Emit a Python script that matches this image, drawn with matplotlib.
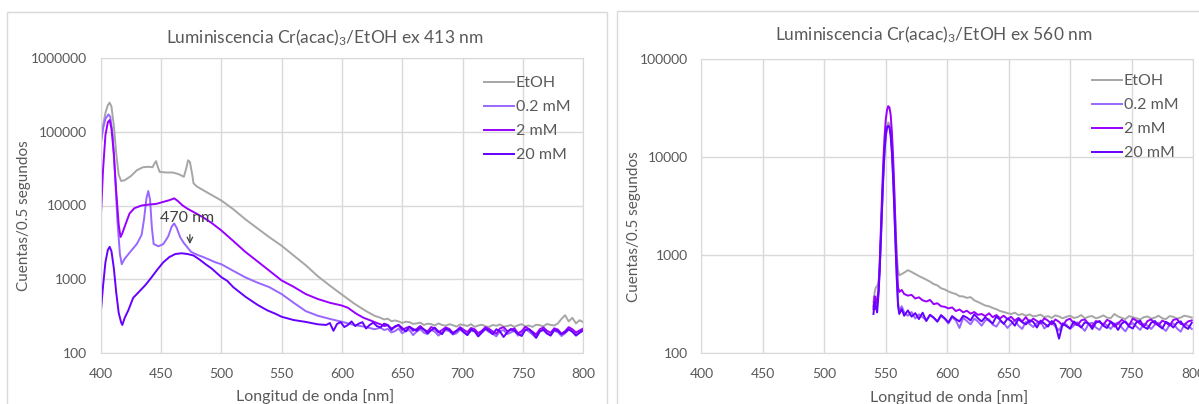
import numpy as np
import matplotlib
matplotlib.use("Agg")
import matplotlib.pyplot as plt
from matplotlib.patches import Rectangle

plt.rcParams['font.family'] = ['Lato', 'DejaVu Sans']
plt.rcParams['mathtext.default'] = 'regular'

# ---------------------------------------------------------------- data, ex 413 nm
labels = ['EtOH', '0.2 mM', '2 mM', '20 mM']
colors_ = ['#A6A6A6', '#9966FF', '#9900FF', '#6600FF']

wl_a_etoh = [400, 402, 404, 406, 407.5, 409, 411, 413, 415, 417, 420, 425, 430, 435, 440, 443,
             445, 446, 447.5, 449, 455, 460, 465, 469, 471, 472.5, 474, 476, 477, 480, 490, 500,
             510, 520, 530, 540, 550, 560, 570, 580, 590, 600, 610, 620, 627]
ct_a_etoh = [70000, 120000, 180000, 230000, 248000, 220000, 120000, 50000, 26000, 21500, 22000,
             25000, 30000, 33000, 33500, 33000, 38000, 40000, 33000, 28500, 28000, 28000, 26500,
             24500, 32000, 41000, 39000, 26000, 20000, 18000, 14500, 11700, 8900, 6500, 4900, 3700,
             2850, 2100, 1550, 1100, 820, 620, 470, 370, 320]
tail_a_etoh = [300, 285, 292, 270, 276, 268, 255, 266, 262, 248, 252, 258, 240, 250, 246, 236, 252,
               240, 234, 246, 238, 228, 244, 240, 232, 246, 226, 236, 242, 230, 226, 240, 234, 244,
               228, 232, 240, 226, 238, 246, 230, 236, 226, 242, 238, 230, 248, 240, 236, 252, 290,
               325, 268, 300, 252, 278, 262]

wl_a_02 = [400, 402, 404, 406.5, 408, 410, 412, 414, 416, 417.5, 420, 425, 430, 434, 436, 438,
           439.5, 441, 442.5, 444, 448, 452, 456, 459, 461, 463, 466, 469, 472, 475, 480, 485, 490,
           495, 500, 510, 520, 530, 540, 550, 560, 570, 580, 590, 600, 610, 620, 627]
ct_a_02 = [65000, 110000, 150000, 172000, 160000, 90000, 25000, 6000, 2200, 1600, 1900, 2400, 3000,
           4000, 6500, 12500, 15700, 12000, 5000, 3000, 2800, 3000, 3800, 5200, 5700, 5000, 3700,
           3100, 2700, 2350, 2150, 2000, 1850, 1700, 1600, 1300, 1060, 900, 780, 630, 480, 370, 320,
           290, 265, 240, 225, 210]
tail_a_02 = [220, 205, 212, 190, 198, 215, 185, 200, 205, 175, 195, 210, 188, 180, 206, 195, 172,
             190, 205, 198, 178, 185, 208, 190, 176, 200, 196, 170, 188, 210, 192, 182, 168, 198,
             205, 180, 190, 200, 172, 185, 210, 195, 178, 160, 196, 205, 182, 176, 200, 192, 170,
             185, 208, 196, 178, 190, 205]

wl_a_2 = [400, 402, 404, 406, 407.5, 409, 411, 413, 415, 416.5, 418, 420, 424, 428, 434, 440, 446,
          452, 457, 461, 464, 468, 472, 478, 485, 492, 500, 510, 520, 530, 540, 550, 560, 570, 580,
          590, 600, 605, 612, 618, 624, 629]
ct_a_2 = [5900, 30000, 90000, 135000, 144000, 110000, 50000, 15000, 5500, 3740, 4200, 5200, 7800,
          9200, 10000, 10300, 10500, 11200, 11800, 12500, 11500, 10000, 9050, 8000, 6900, 5800,
          4600, 3300, 2350, 1750, 1300, 965, 790, 630, 540, 480, 440, 410, 340, 300, 275, 255]
tail_a_2 = [245, 232, 238, 215, 225, 240, 205, 218, 228, 200, 212, 232, 208, 196, 225, 214, 190,
            205, 222, 212, 188, 200, 224, 206, 192, 218, 210, 186, 200, 224, 212, 196, 182, 215,
            224, 198, 205, 216, 185, 198, 226, 212, 194, 178, 210, 222, 200, 188, 216, 208, 182,
            198, 224, 210, 190, 202, 215]

wl_a_20 = [400, 402, 404, 406, 407.5, 409, 411, 413, 415, 417, 418, 420, 423, 427, 432, 437, 442,
           447, 452, 457, 462, 467, 472, 477, 482, 487, 492, 500, 505, 510, 520, 530, 538, 545, 550,
           560, 570, 580, 587]
ct_a_20 = [330, 800, 1700, 2500, 2750, 2400, 1400, 650, 350, 260, 240, 300, 380, 560, 680, 830,
           1050, 1350, 1700, 2000, 2200, 2250, 2200, 2100, 1850, 1600, 1400, 1070, 950, 780, 580,
           450, 380, 340, 310, 280, 264, 245, 240]
tail_a_20 = [255, 200, 248, 262, 225, 240, 268, 232, 250, 262, 215, 240, 258, 232, 222, 250, 240,
             205, 230, 240, 218, 196, 226, 212, 200, 222, 208, 185, 204, 220, 196, 180, 214, 205,
             182, 200, 215, 192, 175, 208, 198, 168, 192, 214, 200, 180, 210, 196, 165, 190, 212,
             200, 182, 170, 205, 210, 188, 162, 196, 208, 185, 172, 206, 198, 180, 190, 210, 194,
             172, 188, 202]

# ---------------------------------------------------------------- data, ex 560 nm
wl_b_peak = [540, 541, 542, 543, 544, 545, 546, 547, 548, 549, 550, 551, 552, 553, 554, 555, 556,
             557, 558, 559, 560, 561, 563]
ct_b_etoh = [330, 420, 470, 480, 520, 700, 1300, 2800, 6000, 11000, 16500, 20500, 22500, 22000,
             19000, 13500, 8000, 4000, 1900, 1000, 700, 620, 640]
tail_b_etoh = [660, 700, 672, 640, 610, 585, 560, 535, 505, 490, 458, 445, 425, 410, 400, 380, 378,
               365, 372, 345, 332, 318, 305, 300, 288, 280, 268, 262, 255, 250, 258, 244, 250, 240,
               248, 236, 240, 246, 232, 238, 228, 242, 236, 226, 234, 240, 228, 232, 244, 226, 235,
               238, 226, 232, 242, 230, 226, 250, 236, 228, 222, 238, 232, 226, 220, 232, 236, 224,
               230, 240, 226, 222, 238, 234, 224, 230, 240, 236, 230]
ct_b_02 = [300, 360, 280, 340, 400, 700, 1500, 3200, 6500, 11500, 16500, 20000, 21000, 20500,
           17000, 11500, 6500, 3000, 1300, 600, 330, 270, 300]
tail_b_02 = [260, 240, 262, 225, 248, 232, 215, 245, 228, 208, 238, 222, 200, 232, 215, 180, 228,
             212, 196, 224, 210, 190, 215, 222, 195, 186, 212, 202, 180, 198, 215, 190, 176, 208,
             198, 184, 202, 210, 178, 192, 205, 186, 170, 200, 195, 176, 190, 206, 185, 168, 198,
             204, 182, 172, 200, 192, 176, 196, 205, 182, 166, 192, 202, 186, 172, 198, 190, 176,
             195, 204, 180, 168, 194, 200, 178, 165, 196, 190, 176]
ct_b_2 = [280, 380, 320, 360, 420, 800, 1800, 4200, 9000, 16000, 24000, 30000, 33000, 32000,
          27000, 18000, 10000, 4500, 1800, 800, 470, 420, 440]
tail_b_2 = [400, 385, 392, 360, 370, 345, 335, 348, 315, 322, 300, 296, 285, 292, 268, 278, 260,
            270, 252, 262, 245, 250, 238, 254, 232, 244, 226, 240, 222, 234, 214, 228, 210, 232,
            206, 224, 212, 200, 226, 214, 196, 220, 208, 190, 216, 224, 200, 192, 215, 220, 198,
            188, 212, 206, 194, 218, 210, 186, 200, 218, 206, 192, 225, 214, 198, 186, 212, 220,
            200, 192, 214, 205, 190, 218, 222, 198, 194, 210, 215]
ct_b_20 = [250, 330, 290, 260, 380, 650, 1400, 3100, 6400, 11500, 16500, 20000, 20800, 20000,
           16500, 11000, 6000, 2800, 1200, 560, 300, 250, 280]
tail_b_20 = [240, 272, 235, 255, 222, 258, 212, 245, 230, 210, 244, 226, 205, 238, 222, 210, 240,
             230, 215, 248, 226, 210, 232, 214, 200, 236, 218, 198, 224, 212, 190, 222, 206, 196,
             216, 208, 182, 214, 200, 186, 212, 196, 140, 200, 188, 178, 210, 196, 182, 206, 200,
             176, 204, 212, 190, 180, 208, 198, 172, 200, 210, 186, 178, 206, 214, 185, 176, 204,
             212, 190, 178, 208, 198, 182, 204, 210, 186, 176, 204]

yticks_a = [100, 1000, 10000, 100000, 1000000]
yticks_b = [100, 1000, 10000, 100000]
xticks = [400, 450, 500, 550, 600, 650, 700, 750, 800]


def join(wl, ct, tail, start):
    x = np.concatenate([wl, start + 3 * np.arange(len(tail))])
    return x, np.concatenate([ct, tail])


series_a = [join(wl_a_etoh, ct_a_etoh, tail_a_etoh, 632),
            join(wl_a_02, ct_a_02, tail_a_02, 632),
            join(wl_a_2, ct_a_2, tail_a_2, 632),
            join(wl_a_20, ct_a_20, tail_a_20, 590)]
series_b = [join(wl_b_peak, ct_b_etoh, tail_b_etoh, 565),
            join(wl_b_peak, ct_b_02, tail_b_02, 565),
            join(wl_b_peak, ct_b_2, tail_b_2, 565),
            join(wl_b_peak, ct_b_20, tail_b_20, 565)]

W, H = 1199, 404
txt = '#595959'
grid = '#D9D9D9'
fig = plt.figure(figsize=(W / 100, H / 100), dpi=100)

# chart area borders
fig.add_artist(Rectangle((7 / W, -0.05), 600 / W, 1.05 - 11.7 / H, transform=fig.transFigure,
                         fill=False, edgecolor=grid, lw=1))
fig.add_artist(Rectangle((617 / W, -0.05), 700 / W, 1.05 - 10.7 / H, transform=fig.transFigure,
                         fill=False, edgecolor=grid, lw=1))


def setup(rect, series, yticks, title, tx, ty, leg_xy, xl, yl):
    ax = fig.add_axes(rect)
    for (x, y), c, lab in zip(series, colors_, labels):
        ax.plot(x, y, color=c, lw=1.4, label=lab)
    ax.set_yscale('log')
    ax.set_xlim(400, 800)
    ax.set_ylim(yticks[0], yticks[-1])
    ax.set_xticks(xticks)
    ax.set_xticklabels([str(v) for v in xticks])
    ax.set_yticks(yticks)
    ax.set_yticklabels([str(v) for v in yticks])
    ax.minorticks_off()
    ax.tick_params(length=0, labelsize=10, colors=txt)
    ax.tick_params(axis='y', pad=10)
    ax.tick_params(axis='x', pad=11)
    ax.grid(True, color=grid, lw=1)
    ax.set_axisbelow(True)
    for s in ax.spines.values():
        s.set_color(grid)
    ax.set_xlabel('Longitud de onda [nm]', fontsize=11.5, color=txt)
    ax.set_ylabel('Cuentas/0.5 segundos', fontsize=11, color=txt)
    ax.xaxis.set_label_coords(*xl)
    ax.yaxis.set_label_coords(*yl)
    ax.xaxis.label.set_va('center')
    ax.yaxis.label.set_va('center')
    fig.text(tx / W, 1 - ty / H, title, ha='center', va='center', fontsize=12.5, color=txt)
    leg = ax.legend(loc='upper left', bbox_to_anchor=(leg_xy[0] / W, 1 - leg_xy[1] / H),
                    bbox_transform=fig.transFigure, frameon=False, fontsize=11.5,
                    handlelength=1.9, handletextpad=0.1, labelspacing=0.62, borderpad=0,
                    borderaxespad=0)
    for t in leg.get_texts():
        t.set_color(txt)
    return ax


ax1 = setup([100.6 / W, 1 - 353 / H, 482.6 / W, 295 / H], series_a, yticks_a,
            'Luminiscencia Cr(acac)$_3$/EtOH ex 413 nm', 325, 38, (484, 76),
            (0.444, -0.149), (-0.159, 0.464))
ax2 = setup([701.4 / W, 1 - 353 / H, 491.6 / W, 294 / H], series_b, yticks_b,
            'Luminiscencia Cr(acac)$_3$/EtOH ex 560 nm', 934, 35, (1092, 74),
            (0.504, -0.150), (-0.138, 0.430))

ax1.annotate('', xy=(474, 2750), xytext=(474, 4400),
             arrowprops=dict(arrowstyle='->', color='#404040', lw=0.9))
ax1.text(472, 6700, '470 nm', ha='center', va='center', fontsize=11.5, color='#404040')

fig.savefig('out.png', dpi=100)
